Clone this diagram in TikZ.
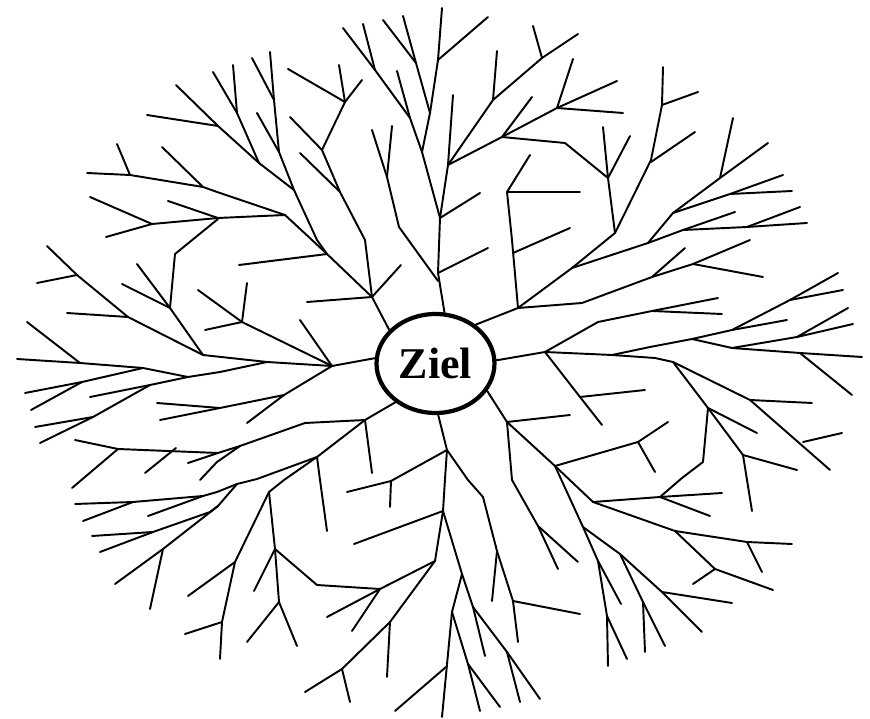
\documentclass[tikz,border=0pt]{standalone}
\usepackage{fontspec}
\setmainfont{Liberation Serif}
\usetikzlibrary{shapes.geometric}

\begin{document}
\begin{tikzpicture}[
  x=0.02cm, y=-0.02cm,
  branch/.style={line width=1.1pt, line cap=round, line join=round},
  goal/.style={
    draw, ellipse, line width=2.4pt, fill=white,
    minimum width=2.36cm, minimum height=1.98cm, inner sep=0pt,
    font=\fontsize{25}{28}\selectfont\bfseries,
  },
]
  \useasboundingbox (0,0) rectangle (870,719);

  % goal in the middle
  \node[goal] (ziel) at (435.5,363.5) {Ziel};

  % trunk going up
  \draw[branch] (ziel.80) -- (438,273) -- (440,218) -- (448,165) -- (453,95);
  \draw[branch] (438,273) -- (488,248);
  \draw[branch] (440,218) -- (480,193);
  \draw[branch] (440,218) -- (422,152) -- (410,118) -- (375,70) -- (343,28);
  \draw[branch] (375,70) -- (363,24);
  \draw[branch] (410,118) -- (397,71);
  \draw[branch] (422,152) -- (430,113) -- (416,63) -- (383,20);
  \draw[branch] (416,63) -- (403,16);
  \draw[branch] (430,113) -- (438,60) -- (442,8);
  \draw[branch] (438,60) -- (488,17);
  \draw[branch] (438,281) -- (399,227) -- (387,177) -- (372,130);
  \draw[branch] (387,177) -- (392,126);

  % upper right
  \draw[branch] (448,165) -- (493,100) -- (542,58) -- (578,34);
  \draw[branch] (493,100) -- (497,51);
  \draw[branch] (542,58) -- (533,26);
  \draw[branch] (448,165) -- (502,137) -- (557,108) -- (617,81);
  \draw[branch] (557,108) -- (573,59);
  \draw[branch] (557,108) -- (623,113);
  \draw[branch] (502,137) -- (532,97);
  \draw[branch] (502,137) -- (565,143) -- (608,178) -- (603,127);
  \draw[branch] (608,178) -- (630,136);
  \draw[branch] (ziel.44) -- (518,308) -- (572,268) -- (615,233) -- (608,178);
  \draw[branch] (615,233) -- (651,160) -- (662,105) -- (663,67);
  \draw[branch] (662,105) -- (698,92);
  \draw[branch] (651,162) -- (695,132);
  \draw[branch] (518,308) -- (512,240) -- (507,192) -- (530,155);
  \draw[branch] (507,192) -- (580,192);
  \draw[branch] (513,253) -- (570,228);
  \draw[branch] (518,308) -- (582,303) -- (652,277) -- (685,248);
  \draw[branch] (652,277) -- (693,264) -- (750,240);
  \draw[branch] (693,264) -- (763,277);
  \draw[branch] (572,268) -- (648,243) -- (673,213) -- (720,178) -- (768,143);
  \draw[branch] (720,178) -- (733,118);
  \draw[branch] (673,213) -- (730,194) -- (783,175);
  \draw[branch] (730,194) -- (792,191);
  \draw[branch] (648,243) -- (683,230) -- (747,227) -- (807,223);
  \draw[branch] (683,230) -- (735,212);
  \draw[branch] (747,227) -- (800,207);

  % right
  \draw[branch] (ziel.3) -- (545,352) -- (612,355) -- (655,358) -- (673,362);
  \draw[branch] (545,352) -- (598,322) -- (652,311) -- (718,298);
  \draw[branch] (652,311) -- (722,314);
  \draw[branch] (612,355) -- (650,347) -- (692,339) -- (732,330) -- (790,300) -- (838,273);
  \draw[branch] (790,300) -- (843,290);
  \draw[branch] (732,330) -- (787,320);
  \draw[branch] (692,339) -- (732,348) -- (797,337) -- (848,308);
  \draw[branch] (797,337) -- (853,324);
  \draw[branch] (732,348) -- (800,353) -- (862,357);
  \draw[branch] (800,353) -- (852,395);
  \draw[branch] (673,362) -- (750,400) -- (830,470);
  \draw[branch] (750,400) -- (812,403);
  \draw[branch] (803,442) -- (842,433);
  \draw[branch] (673,362) -- (708,408) -- (743,455) -- (747,480) -- (752,511);
  \draw[branch] (743,455) -- (797,470);
  \draw[branch] (708,408) -- (757,433);
  \draw[branch] (708,408) -- (703,462) -- (682,478) -- (660,497);
  \draw[branch] (545,352) -- (580,397) -- (602,425);
  \draw[branch] (580,397) -- (645,390);

  % lower right
  \draw[branch] (ziel.-28) -- (507,422) -- (570,415);
  \draw[branch] (507,422) -- (512,480) -- (538,526) -- (558,569);
  \draw[branch] (538,526) -- (578,562);
  \draw[branch] (507,422) -- (555,466) -- (638,442) -- (668,422);
  \draw[branch] (638,442) -- (655,472);
  \draw[branch] (555,466) -- (593,502) -- (660,497) -- (722,493);
  \draw[branch] (660,497) -- (710,516);
  \draw[branch] (593,502) -- (675,531) -- (747,542) -- (792,544);
  \draw[branch] (747,542) -- (762,572);
  \draw[branch] (675,531) -- (715,569) -- (773,590);
  \draw[branch] (715,569) -- (693,584);
  \draw[branch] (555,466) -- (583,527) -- (598,561) -- (607,616) -- (608,666);
  \draw[branch] (607,616) -- (627,659);
  \draw[branch] (598,561) -- (621,604);
  \draw[branch] (583,527) -- (620,554) -- (643,602) -- (645,652);
  \draw[branch] (643,602) -- (665,646);
  \draw[branch] (620,554) -- (662,592) -- (702,632);
  \draw[branch] (662,592) -- (732,603);

  % trunk going down
  \draw[branch] (ziel.-87) -- (447,450) -- (468,480) -- (483,497) -- (497,551) -- (513,601) -- (518,642);
  \draw[branch] (497,551) -- (492,601);
  \draw[branch] (513,601) -- (580,614);
  \draw[branch] (447,450) -- (445,479) -- (443,511) -- (462,574) -- (473,607) -- (507,652) -- (540,699);
  \draw[branch] (473,607) -- (485,656);
  \draw[branch] (507,652) -- (520,702);
  \draw[branch] (462,574) -- (452,612) -- (442,717);
  \draw[branch] (452,612) -- (468,664) -- (480,711);
  \draw[branch] (468,664) -- (500,707);
  \draw[branch] (446,667) -- (395,711);
  \draw[branch] (443,511) -- (354,544);
  \draw[branch] (443,511) -- (435,561) -- (380,589) -- (317,585);
  \draw[branch] (380,589) -- (327,617);
  \draw[branch] (380,589) -- (352,631);
  \draw[branch] (435,561) -- (390,622) -- (342,669) -- (305,692);
  \draw[branch] (390,622) -- (387,677);
  \draw[branch] (342,669) -- (350,702);
  \draw[branch] (447,450) -- (391,481) -- (390,507);
  \draw[branch] (391,481) -- (347,492);

  % lower left
  \draw[branch] (ziel.224) -- (365,420) -- (305,423) -- (240,446) -- (218,453) -- (118,449) -- (75,440);
  \draw[branch] (218,453) -- (188,463);
  \draw[branch] (240,446) -- (217,462) -- (200,480);
  \draw[branch] (176,448) -- (145,473);
  \draw[branch] (118,449) -- (72,488);
  \draw[branch] (365,420) -- (372,473);
  \draw[branch] (365,420) -- (317,457) -- (257,479) -- (237,484) -- (217,492) -- (203,496) -- (133,502) -- (75,504);
  \draw[branch] (133,502) -- (83,521);
  \draw[branch] (203,496) -- (148,516);
  \draw[branch] (237,484) -- (218,506) -- (210,512) -- (153,532) -- (92,536);
  \draw[branch] (153,532) -- (100,552);
  \draw[branch] (218,506) -- (163,549) -- (115,584);
  \draw[branch] (163,549) -- (150,609);
  \draw[branch] (317,457) -- (320,480) -- (327,531);
  \draw[branch] (317,457) -- (284,480) -- (269,492) -- (275,549) -- (317,585);
  \draw[branch] (275,549) -- (279,602) -- (297,646);
  \draw[branch] (279,602) -- (247,642);
  \draw[branch] (275,549) -- (254,591);
  \draw[branch] (269,492) -- (235,562) -- (222,622) -- (220,659);
  \draw[branch] (235,562) -- (188,596);
  \draw[branch] (222,622) -- (185,634);

  % left
  \draw[branch] (ziel.175) -- (332,366) -- (242,322) -- (198,290);
  \draw[branch] (242,322) -- (247,283);
  \draw[branch] (242,322) -- (205,330);
  \draw[branch] (332,366) -- (300,320);
  \draw[branch] (332,366) -- (267,362) -- (203,355) -- (128,317) -- (77,275) -- (47,246);
  \draw[branch] (77,275) -- (37,283);
  \draw[branch] (128,317) -- (67,313);
  \draw[branch] (203,355) -- (170,308) -- (137,264);
  \draw[branch] (170,308) -- (122,284);
  \draw[branch] (170,308) -- (175,254) -- (218,219);
  \draw[branch] (267,362) -- (220,372) -- (188,377) -- (143,368) -- (80,363) -- (17,359);
  \draw[branch] (80,363) -- (27,322);
  \draw[branch] (143,368) -- (82,382) -- (25,393);
  \draw[branch] (82,382) -- (31,410);
  \draw[branch] (188,377) -- (150,385) -- (90,397);
  \draw[branch] (150,385) -- (93,417) -- (35,427);
  \draw[branch] (93,417) -- (40,443);
  \draw[branch] (332,366) -- (284,395) -- (247,423);
  \draw[branch] (284,395) -- (220,408) -- (157,403);
  \draw[branch] (220,408) -- (160,420);

  % upper left
  \draw[branch] (ziel.144) -- (372,297) -- (327,254) -- (312,240) -- (285,215) -- (218,218) -- (152,224) -- (90,197);
  \draw[branch] (152,224) -- (106,237);
  \draw[branch] (218,218) -- (168,201);
  \draw[branch] (285,215) -- (220,193) -- (203,187) -- (130,175) -- (87,173);
  \draw[branch] (130,175) -- (117,144);
  \draw[branch] (203,187) -- (162,147);
  \draw[branch] (327,254) -- (317,240) -- (294,190) -- (259,163) -- (237,113) -- (213,72);
  \draw[branch] (237,113) -- (233,65);
  \draw[branch] (259,163) -- (218,126) -- (176,85);
  \draw[branch] (218,126) -- (147,115);
  \draw[branch] (294,190) -- (279,152) -- (274,100) -- (252,58);
  \draw[branch] (274,100) -- (270,52);
  \draw[branch] (279,152) -- (257,113);
  \draw[branch] (327,254) -- (239,265);
  \draw[branch] (372,297) -- (365,240) -- (340,192) -- (322,150) -- (290,117);
  \draw[branch] (340,192) -- (300,153);
  \draw[branch] (322,150) -- (345,102) -- (288,69);
  \draw[branch] (345,102) -- (339,65);
  \draw[branch] (345,102) -- (362,80);
  \draw[branch] (372,297) -- (307,302);
  \draw[branch] (372,297) -- (401,265);
\end{tikzpicture}
\end{document}
